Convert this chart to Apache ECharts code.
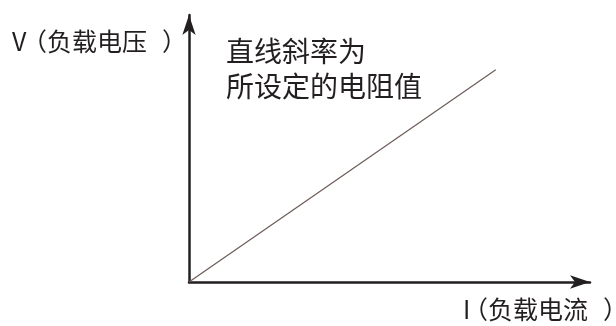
<!DOCTYPE html>
<html>
<head>
<meta charset="utf-8">
<script src="https://cdn.jsdelivr.net/npm/echarts@6/dist/echarts.min.js"></script>
<style>
  html, body { margin: 0; padding: 0; background: #fff; }
  #chart { width: 616px; height: 326px; }
</style>
</head>
<body>
<div id="chart"></div>
<script>
// 负载电阻特性：V 与 I 成正比
const lineX = [0, 76.5]
const lineY = [0, 79.5]
const yLabel = 'V（负载电压）'
const xLabel = 'I（负载电流）'
const noteLines = ['直线斜率为', '所设定的电阻值']

const chart = echarts.init(document.getElementById('chart'))
const font = '"Noto Sans CJK SC", "Noto Sans", sans-serif'
const ink = '#231f20'

// 符号字母和左括号贴紧，右括号前留空隙，和原图排版接近
const withParens = (s, lead) => '{a|' + s[0] + '}' + s.slice(1).replace('（', '{p|（}').replace('）', '{q|）}')
const parenRich = lead => ({
  a: { font: '25px ' + font, fill: ink, width: lead },
  p: { font: '25px ' + font, fill: ink },
  q: { font: '25px ' + font, fill: ink, padding: [0, 0, 0, 15] }
})

const axisCommon = {
  type: 'value',
  min: 0,
  max: 100,
  axisLine: {
    show: true,
    symbol: ['none', 'arrow'],
    symbolSize: [10, 20],
    lineStyle: { color: ink, width: 2.5 }
  },
  axisTick: { show: false },
  axisLabel: { show: false },
  splitLine: { show: false }
}

const option = {
  animation: false,
  grid: { left: 189, right: 26, top: 15, bottom: 44 },
  xAxis: axisCommon,
  yAxis: axisCommon,
  series: [
    {
      type: 'line',
      data: lineX.map((x, i) => [x, lineY[i]]),
      symbol: 'none',
      lineStyle: { color: '#6b5b57', width: 1.2 }
    }
  ],
  graphic: [
    {
      type: 'text',
      style: {
        x: 12, y: 41, verticalAlign: 'middle',
        text: withParens(yLabel), font: '25px ' + font, fill: ink, rich: parenRich(10)
      }
    },
    {
      type: 'text',
      style: {
        x: 463, y: 309, verticalAlign: 'middle',
        text: withParens(xLabel), font: '25px ' + font, fill: ink, rich: parenRich(0.1)
      }
    },
    ...noteLines.map((t, i) => ({
      type: 'text',
      style: {
        x: 226, y: 51.5 + i * 35, verticalAlign: 'middle',
        text: t, font: '28px ' + font, fill: ink
      }
    }))
  ]
}

chart.setOption(option)
window.addEventListener('resize', () => chart.resize())
</script>
</body>
</html>
